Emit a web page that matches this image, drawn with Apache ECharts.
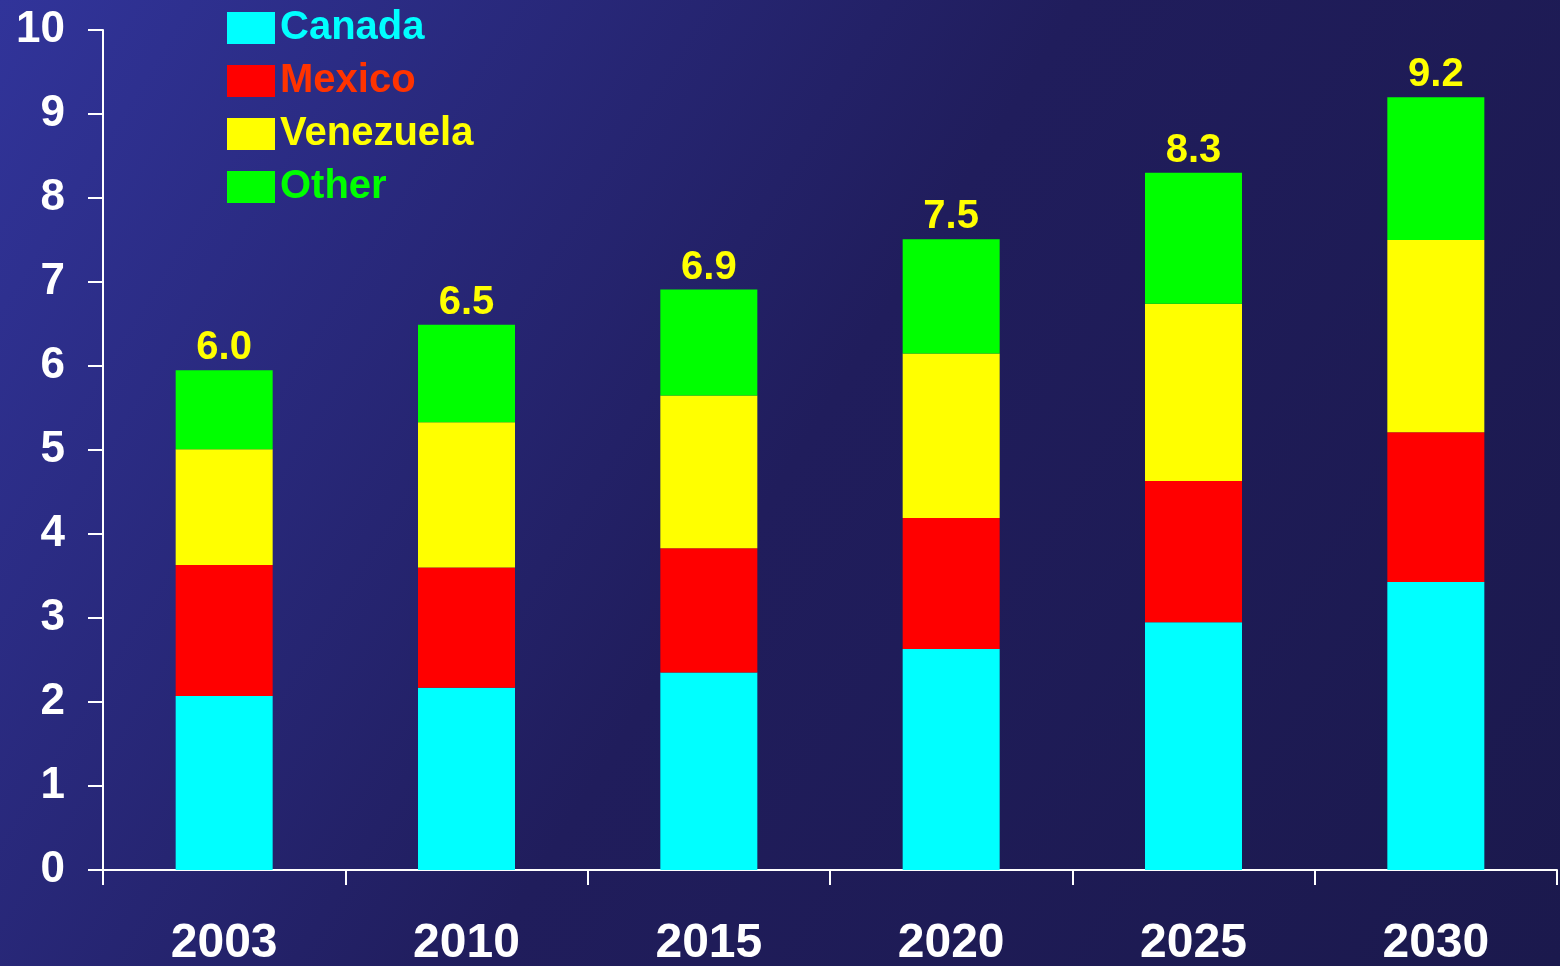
<!DOCTYPE html>
<html>
<head>
<meta charset="utf-8">
<script src="https://cdn.jsdelivr.net/npm/echarts@6/dist/echarts.min.js"></script>
<style>
  html, body { margin: 0; padding: 0; }
  #chart { width: 1560px; height: 966px; }
</style>
</head>
<body>
<div id="chart"></div>
<script>
var years = ['2003', '2010', '2015', '2020', '2025', '2030'];
var canada = [2.07, 2.17, 2.35, 2.63, 2.95, 3.43];
var mexico = [1.56, 1.43, 1.48, 1.56, 1.68, 1.78];
var venezuela = [1.38, 1.73, 1.82, 1.96, 2.11, 2.29];
var other = [0.94, 1.16, 1.26, 1.36, 1.56, 1.70];
var totals = ['6.0', '6.5', '6.9', '7.5', '8.3', '9.2'];

var chartDom = document.getElementById('chart');
var myChart = echarts.init(chartDom);
var font = 'Liberation Sans, Arial, sans-serif';

var option = {
  backgroundColor: new echarts.graphic.LinearGradient(0, 0, 1, 1, [
    { offset: 0, color: '#31349a' },
    { offset: 0.5, color: '#201d5c' },
    { offset: 1, color: '#1b194d' }
  ]),
  animation: false,
  legend: {
    orient: 'vertical',
    left: 227,
    top: 8,
    padding: 0,
    itemWidth: 48,
    itemHeight: 32,
    itemGap: 13,
    icon: 'rect',
    textStyle: { fontFamily: font, fontWeight: 'bold', fontSize: 40 },
    data: [
      { name: 'Canada', textStyle: { color: '#00ffff' } },
      { name: 'Mexico', textStyle: { color: '#ff3300' } },
      { name: 'Venezuela', textStyle: { color: '#ffff00' } },
      { name: 'Other', textStyle: { color: '#00ff00' } }
    ]
  },
  grid: { left: 103, right: 3, top: 30, bottom: 96, outerBoundsMode: 'none' },
  xAxis: {
    type: 'category',
    data: years,
    axisLine: { lineStyle: { color: '#ffffff', width: 2 } },
    axisTick: { show: true, length: 15, lineStyle: { color: '#ffffff', width: 2 } },
    axisLabel: { color: '#ffffff', fontFamily: font, fontWeight: 'bold', fontSize: 48, margin: 50 }
  },
  yAxis: {
    type: 'value',
    min: 0,
    max: 10,
    interval: 1,
    splitLine: { show: false },
    axisLine: { show: true, lineStyle: { color: '#ffffff', width: 2 } },
    axisTick: { show: true, length: 15, lineStyle: { color: '#ffffff', width: 2 } },
    axisLabel: { color: '#ffffff', fontFamily: font, fontWeight: 'bold', fontSize: 44, margin: 38 }
  },
  series: [
    { name: 'Canada', type: 'bar', stack: 'total', barWidth: 97, itemStyle: { color: '#00ffff' }, data: canada },
    { name: 'Mexico', type: 'bar', stack: 'total', itemStyle: { color: '#ff0000' }, data: mexico },
    { name: 'Venezuela', type: 'bar', stack: 'total', itemStyle: { color: '#ffff00' }, data: venezuela },
    {
      name: 'Other', type: 'bar', stack: 'total', itemStyle: { color: '#00ff00' }, data: other,
      label: {
        show: true,
        position: 'top',
        distance: 2,
        color: '#ffff00',
        fontFamily: font,
        fontWeight: 'bold',
        fontSize: 40,
        formatter: function (p) { return totals[p.dataIndex]; }
      }
    }
  ]
};

myChart.setOption(option);
</script>
</body>
</html>
